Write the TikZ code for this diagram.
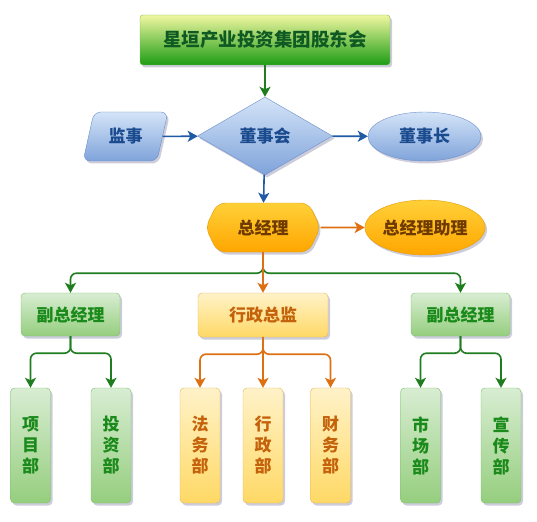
\documentclass[tikz,border=0pt]{standalone}
\usepackage{fontspec}
\setmainfont{Noto Sans CJK SC}
\usetikzlibrary{shapes.geometric,shapes.symbols,shadows,arrows.meta}
\definecolor{topup}{HTML}{F0F7A0}
\definecolor{topdown}{HTML}{1C9C14}
\definecolor{topborder}{HTML}{7DBF5A}
\definecolor{topfont}{HTML}{0F5A23}
\definecolor{blueup}{HTML}{D4E4F8}
\definecolor{bluedown}{HTML}{7FA3DA}
\definecolor{blueborder}{HTML}{6C8FC8}
\definecolor{bluefont}{HTML}{1B4B8F}
\definecolor{orgup}{HTML}{FFD038}
\definecolor{orgdown}{HTML}{FFA600}
\definecolor{orgborder}{HTML}{E39A00}
\definecolor{orgfont}{HTML}{6E3A00}
\definecolor{greenup}{HTML}{D8EDD2}
\definecolor{greendown}{HTML}{95CE7E}
\definecolor{greenborder}{HTML}{7DBE69}
\definecolor{greenfont}{HTML}{1A8A1A}
\definecolor{paleup}{HTML}{FFF2C8}
\definecolor{paledown}{HTML}{FFD966}
\definecolor{paleborder}{HTML}{E2B551}
\definecolor{palefont}{HTML}{C4620C}
\definecolor{glinecol}{HTML}{1F7D1F}
\definecolor{blinecol}{HTML}{1F5BA5}
\definecolor{olinecol}{HTML}{DC7012}
\begin{document}
\begin{tikzpicture}[x=1pt,y=-1pt,
		font=\bfseries\fontsize{17}{21}\selectfont,
		shade/.style={drop shadow={shadow xshift=2pt,shadow yshift=-2.5pt,opacity=.2,fill=black!70!blue}},
		topbox/.style={shade,rounded corners=3pt,draw=topborder,top color=topup,bottom color=topdown,text=topfont,minimum width=250pt,minimum height=50pt,font=\bfseries\fontsize{18.5}{20}\selectfont},
		bluebox/.style={shade,draw=blueborder,top color=blueup,bottom color=bluedown,text=bluefont,inner sep=0pt},
		orgbox/.style={shade,draw=orgborder,top color=orgup,bottom color=orgdown,text=orgfont,inner sep=0pt},
		greenbox/.style={shade,rounded corners=4pt,draw=greenborder,top color=greenup,bottom color=greendown,text=greenfont},
		paleorg/.style={shade,rounded corners=4pt,draw=paleborder,top color=paleup,bottom color=paledown,text=palefont},
		head/.style={minimum width=99pt,minimum height=43pt},
		dept/.style={minimum width=40pt,minimum height=115pt,align=center,inner sep=0pt},
		tip/.style={-{Stealth[length=10pt,width=11pt,inset=2.5pt]},line width=1.6pt,rounded corners=6pt},
		gline/.style={tip,draw=glinecol},
		bline/.style={tip,draw=blinecol},
		oline/.style={tip,draw=olinecol}]
		\useasboundingbox (0,0) rectangle (537,521);
		% top
		\node[topbox] (gd) at (265,40) {星垣产业投资集团股东会};
		\node[bluebox,diamond,minimum width=135pt,minimum height=78pt] (dsh) at (265,136) {董事会};
		\node[bluebox,trapezium,trapezium left angle=70,trapezium right angle=110,trapezium stretches=true,minimum width=85pt,minimum height=49pt,rounded corners=7pt] (js) at (125.5,136.5) {监事};
		\node[bluebox,ellipse,minimum width=113pt,minimum height=49pt] (dsz) at (424.5,136.5) {董事长};
		\node[orgbox,signal,signal to=east and west,signal pointer angle=128,minimum width=115pt,minimum height=49pt,rounded corners=8pt] (zjl) at (263,227.5) {总经理};
		\node[orgbox,ellipse,minimum width=114pt,minimum height=55pt] (zl) at (425,227.5) {总经理助理};
		% middle
		\node[greenbox,head] (fzl1) at (70.5,314.5) {副总经理};
		\node[paleorg,minimum width=130pt,minimum height=44pt] (xzzj) at (263,315) {行政总监};
		\node[greenbox,head] (fzl2) at (460.5,314.5) {副总经理};
		% departments
		\node[greenbox,dept] (xmb) at (30.5,445.5) {项\\目\\部};
		\node[greenbox,dept] (tzb) at (111,445.5) {投\\资\\部};
		\node[paleorg,dept] (fwb) at (200,445.5) {法\\务\\部};
		\node[paleorg,dept] (xzb) at (263,445.5) {行\\政\\部};
		\node[paleorg,dept] (cwb) at (330.5,445.5) {财\\务\\部};
		\node[greenbox,dept] (scb) at (420.5,445.5) {市\\场\\部};
		\node[greenbox,dept] (xcb) at (501,445.5) {宣\\传\\部};
		% connectors
		\draw[gline] (gd) -- (dsh);
		\draw[bline] (js) -- (dsh);
		\draw[bline] (dsh) -- (dsz);
		\draw[bline] (dsh) -- (zjl);
		\draw[oline] (zjl) -- (zl);
		\draw[gline] (zjl.south) -- ++(0,21) -| (fzl1);
		\draw[gline] (zjl.south) -- ++(0,21) -| (fzl2);
		\draw[oline] (zjl) -- (xzzj);
		\draw[gline] (fzl1.south) -- ++(0,17) -| (xmb);
		\draw[gline] (fzl1.south) -- ++(0,17) -| (tzb);
		\draw[oline] (xzzj.south) -- ++(0,17) -| (fwb);
		\draw[oline] (xzzj) -- (xzb);
		\draw[oline] (xzzj.south) -- ++(0,17) -| (cwb);
		\draw[gline] (fzl2.south) -- ++(0,17) -| (scb);
		\draw[gline] (fzl2.south) -- ++(0,17) -| (xcb);
	\end{tikzpicture}
\end{document}
